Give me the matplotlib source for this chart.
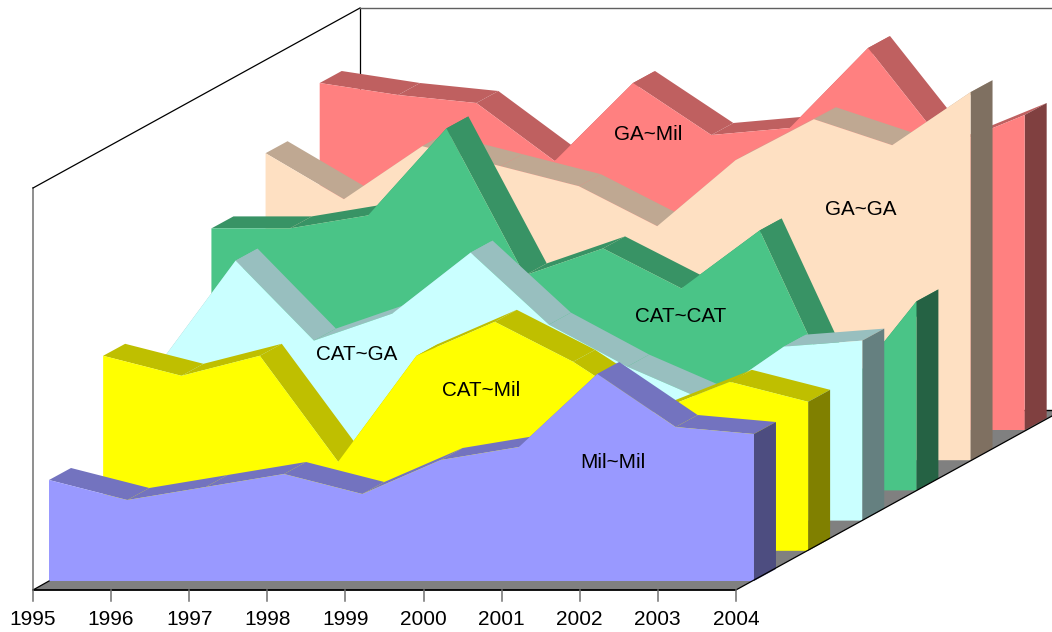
import numpy as np
import matplotlib
matplotlib.use("Agg")
import matplotlib.pyplot as plt

plt.rcParams['font.family'] = ['Liberation Sans', 'DejaVu Sans']

years = [1995, 1996, 1997, 1998, 1999, 2000, 2001, 2002, 2003, 2004]

# front to back, heights on a 0-402 scale
mil_mil = [101, 81, 94, 107, 87, 121, 134, 207, 154, 147]
cat_mil = [195, 175, 195, 89, 195, 229, 189, 138, 169, 149]
cat_ga = [154, 260, 180, 207, 268, 196, 154, 120, 174, 180]
cat_cat = [262, 262, 275, 362, 215, 242, 202, 260, 91, 189]
ga_ga = [307, 261, 314, 294, 274, 234, 300, 341, 315, 368]
ga_mil = [347, 335, 327, 269, 347, 295, 302, 382, 283, 315]

series = [mil_mil, cat_mil, cat_ga, cat_cat, ga_ga, ga_mil]
series_names = ['Mil~Mil', 'CAT~Mil', 'CAT~GA', 'CAT~CAT', 'GA~GA', 'GA~Mil']
series_colors = ['#9999FF', '#FFFF00', '#CAFFFF', '#4AC487', '#FEE0C2', '#FF8080']

# where each name sits: year position, height above the series base
label_year = [1995 + 7.2, 1995 + 4.82, 1995 + 2.55, 1995 + 5.99, 1995 + 7.6, 1995 + 4.2]
label_height = [118, 160, 166, 174, 251, 296]

# oblique projection, in figure pixels
X0, Y0 = 33, 590
TICKSTEP = 78.1
XSTEP = 78.33
YMAX = 402
SER_DX, SER_DY = 54.14, 30.2
OFF_DX, OFF_DY = 16.0, 9.0
THICK_DX, THICK_DY = 22.0, 12.0
BACK_DX, BACK_DY = 327.0, 180.0


def proj(year, height, ser=0.0, thick=0.0):
    x = X0 + (np.asarray(year) - years[0]) * XSTEP + OFF_DX + ser * SER_DX + thick * THICK_DX
    y = Y0 - np.asarray(height) - OFF_DY - ser * SER_DY - thick * THICK_DY
    return x, y


def shade(color, k):
    r, g, b = matplotlib.colors.to_rgb(color)
    return (r * k, g * k, b * k)


fig = plt.figure(figsize=(10.52, 6.32), dpi=100)
ax = fig.add_axes([0, 0, 1, 1])
ax.set_xlim(0, 1052)
ax.set_ylim(632, 0)
ax.axis('off')

# floor
span = (years[-1] - years[0]) * TICKSTEP
ax.fill([X0, X0 + span, X0 + span + BACK_DX, X0 + BACK_DX],
        [Y0, Y0, Y0 - BACK_DY, Y0 - BACK_DY], color='#808080', lw=0, zorder=1)

# box lines
ax.plot([X0, X0], [Y0, Y0 - YMAX], color='#707070', lw=1.1, zorder=2)
ax.plot([X0, X0 + BACK_DX], [Y0 - YMAX, Y0 - YMAX - BACK_DY], color='black', lw=0.9, zorder=2)
ax.plot([X0 + BACK_DX, X0 + BACK_DX], [Y0 - YMAX - BACK_DY, Y0 - BACK_DY], color='black', lw=0.9, zorder=2)
ax.plot([X0 + BACK_DX, X0 + span + BACK_DX], [Y0 - YMAX - BACK_DY] * 2, color='#606060', lw=1.0, zorder=2)
ax.plot([X0 + BACK_DX, X0 + span + BACK_DX], [Y0 - BACK_DY] * 2, color='black', lw=1.0, zorder=2)

# series, back one first so the front ones cover it
for i in range(len(series) - 1, -1, -1):
    vals = series[i]
    col = series_colors[i]
    z = 3 + (len(series) - i)
    for j in range(len(years) - 1):
        xa, ya = proj(years[j], vals[j], i)
        xb, yb = proj(years[j + 1], vals[j + 1], i)
        xc, yc = proj(years[j + 1], vals[j + 1], i, 1)
        xd, yd = proj(years[j], vals[j], i, 1)
        ax.fill([xa, xb, xc, xd], [ya, yb, yc, yd], color=shade(col, 0.75), lw=0, zorder=z)
    xa, ya = proj(years[-1], vals[-1], i)
    xb, yb = proj(years[-1], vals[-1], i, 1)
    xc, yc = proj(years[-1], 0, i, 1)
    xd, yd = proj(years[-1], 0, i)
    ax.fill([xa, xb, xc, xd], [ya, yb, yc, yd], color=shade(col, 0.5), lw=0, zorder=z)
    xs, ys = proj(years, vals, i)
    x0, y0 = proj(years[0], 0, i)
    x1, y1 = proj(years[-1], 0, i)
    ax.fill(list(xs) + [x1, x0], list(ys) + [y1, y0], color=col, lw=0, zorder=z)
    lx, ly = proj(label_year[i], label_height[i], i)
    ax.text(lx, ly, series_names[i], ha='center', va='center', fontsize=14.9, color='black', zorder=20)

# front axis, floor edges and year ticks
ax.plot([X0, X0 + span], [Y0, Y0], color='black', lw=1.3, solid_capstyle='butt', zorder=15)
ax.plot([X0, X0 + OFF_DX], [Y0, Y0 - OFF_DY], color='black', lw=0.9, zorder=15)
ax.plot([X0 + span, X0 + span + BACK_DX], [Y0, Y0 - BACK_DY], color='black', lw=0.9, zorder=15)
for yr in years:
    tx = X0 + (yr - years[0]) * TICKSTEP
    ax.plot([tx, tx], [Y0, Y0 + 11], color='#707070', lw=1.1, zorder=15)
    ax.text(tx, 619.5, str(yr), ha='center', va='center', fontsize=15, color='black')

fig.savefig('out.png', dpi=100)
